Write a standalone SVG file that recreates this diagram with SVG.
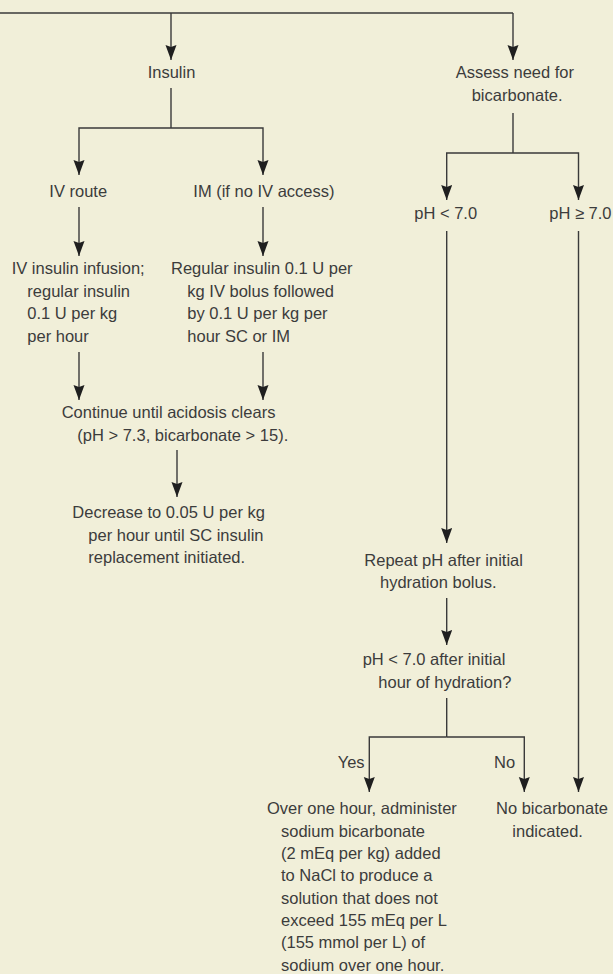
<svg xmlns="http://www.w3.org/2000/svg" width="613" height="974" viewBox="0 0 613 974">
<style>
text{font-family:"Liberation Sans",Arial,sans-serif;font-size:16.5px;fill:#3c3c3c}
.c{fill:none;stroke:#3a3a3a;stroke-width:1.4}
.a{marker-end:url(#ah)}
</style>
<defs>
<marker id="ah" markerUnits="userSpaceOnUse" markerWidth="16" markerHeight="12" refX="15" refY="5.5" orient="auto">
<path d="M0,0 L15,5.5 L0,11 L2,5.5 Z" fill="#1f1f1f"/>
</marker>
</defs>
<rect width="613" height="974" fill="#F1EFD9"/>
<g id="connectors">
<path class="c" d="M0,13 H513"/>
<path class="c a" d="M513,13 V60"/>
<path class="c a" d="M171,13 V60"/>
<path class="c" d="M171,88 V128"/>
<path class="c a" d="M171,128 H79 V175"/>
<path class="c a" d="M171,128 H263 V175"/>
<path class="c" d="M513,113 V153"/>
<path class="c a" d="M513,153 H446.7 V200"/>
<path class="c a" d="M513,153 H578.5 V200"/>
<path class="c a" d="M79,207 V256"/>
<path class="c a" d="M263,207 V256"/>
<path class="c a" d="M79,352 V400"/>
<path class="c a" d="M263,352 V400"/>
<path class="c a" d="M177,450 V497"/>
<path class="c a" d="M446.7,231 V543"/>
<path class="c a" d="M446.7,598 V645"/>
<path class="c" d="M446.7,698 V737"/>
<path class="c a" d="M446.7,737 H369.3 V792"/>
<path class="c a" d="M446.7,737 H524.3 V792"/>
<path class="c a" d="M578.5,231 V792"/>
</g>
<g id="insulin"><text x="147.7" y="78.3">Insulin</text></g>
<g id="assess"><text x="455.7" y="78">Assess need for</text><text x="471.7" y="101">bicarbonate.</text></g>
<g id="iv-route"><text x="49.3" y="196.7">IV route</text></g>
<g id="im-route"><text x="193.3" y="196.7">IM (if no IV access)</text></g>
<g id="ph-low"><text x="414.3" y="218.5">pH &lt; 7.0</text></g>
<g id="ph-high"><text x="549.3" y="218.5">pH ≥ 7.0</text></g>
<g id="iv-infusion">
<text x="11.7" y="274.3">IV insulin infusion;</text>
<text x="27.3" y="296.7">regular insulin</text>
<text x="27.3" y="319">0.1 U per kg</text>
<text x="27.3" y="341.5">per hour</text>
</g>
<g id="im-bolus">
<text x="171" y="274.3">Regular insulin 0.1 U per</text>
<text x="187.3" y="296.7">kg IV bolus followed</text>
<text x="187.3" y="319">by 0.1 U per kg per</text>
<text x="187.3" y="341.5">hour SC or IM</text>
</g>
<g id="continue">
<text x="61.7" y="418.3">Continue until acidosis clears</text>
<text x="77.3" y="440.7">(pH &gt; 7.3, bicarbonate &gt; 15).</text>
</g>
<g id="decrease">
<text x="72.3" y="518.3">Decrease to 0.05 U per kg</text>
<text x="88.3" y="540.7">per hour until SC insulin</text>
<text x="88.3" y="563">replacement initiated.</text>
</g>
<g id="repeat">
<text x="364.3" y="566">Repeat pH after initial</text>
<text x="380" y="588.3">hydration bolus.</text>
</g>
<g id="question">
<text x="362.7" y="665">pH &lt; 7.0 after initial</text>
<text x="378.3" y="687.7">hour of hydration?</text>
</g>
<g id="labels">
<text x="337.7" y="768.3">Yes</text>
<text x="494" y="768.3">No</text>
</g>
<g id="administer">
<text x="267" y="814.3">Over one hour, administer</text>
<text x="281" y="836.7">sodium bicarbonate</text>
<text x="281" y="859">(2 mEq per kg) added</text>
<text x="281" y="881.3">to NaCl to produce a</text>
<text x="281" y="903.7">solution that does not</text>
<text x="281" y="926">exceed 155 mEq per L</text>
<text x="281" y="948.3">(155 mmol per L) of</text>
<text x="281" y="970.7">sodium over one hour.</text>
</g>
<g id="no-bicarb">
<text x="496" y="814.3">No bicarbonate</text>
<text x="512.3" y="836.7">indicated.</text>
</g>
</svg>
